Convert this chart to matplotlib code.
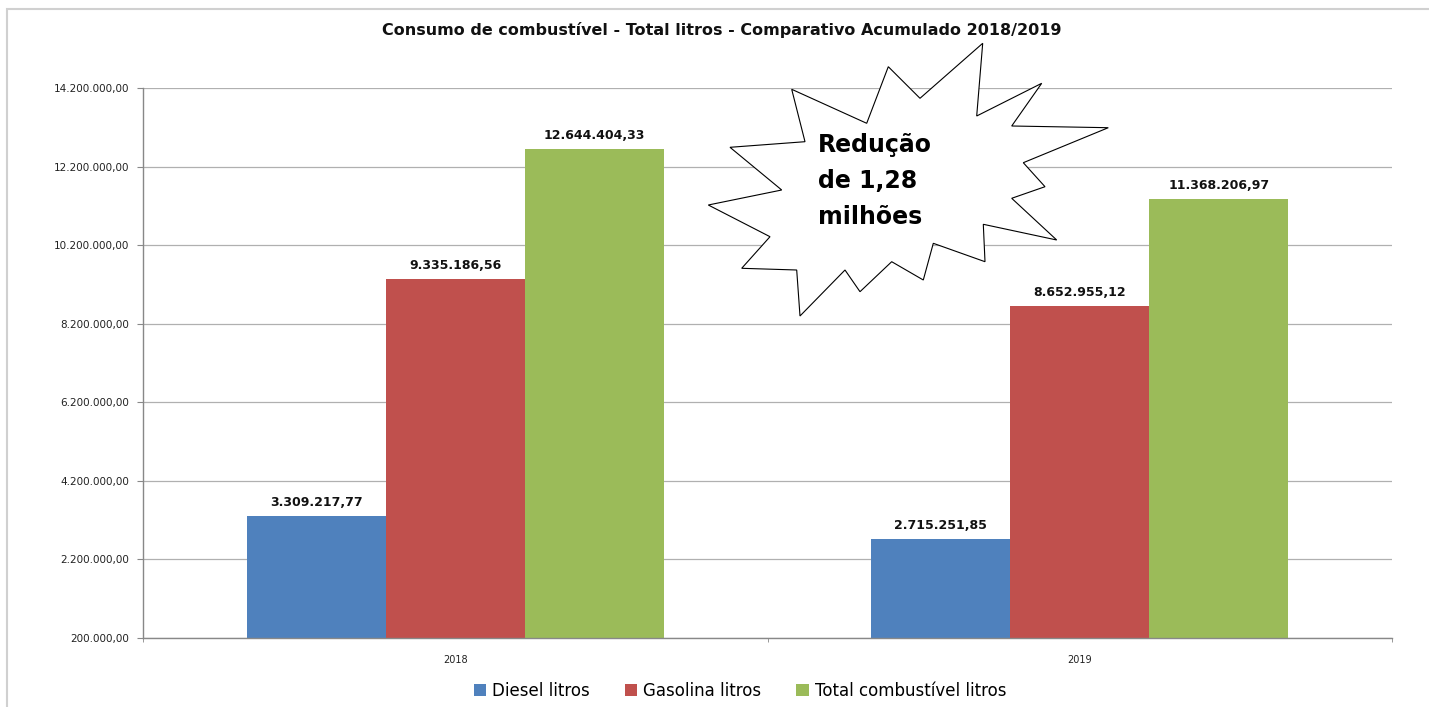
import numpy as np
import matplotlib
matplotlib.use("Agg")
from matplotlib import pyplot as plt
from matplotlib.patches import Polygon, Rectangle, Patch
from matplotlib.ticker import FixedLocator, FuncFormatter

# dados
anos = ["2018", "2019"]
diesel = [3309217.77, 2715251.85]
gasolina = [9335186.56, 8652955.12]
total = [12644404.33, 11368206.97]
series_nomes = ["Diesel litros", "Gasolina litros", "Total combustível litros"]
cores = ["#4F81BD", "#C0504D", "#9BBB59"]
y_ticks = [200000, 2200000, 4200000, 6200000, 8200000, 10200000, 12200000, 14200000]

titulo = "Consumo de combustível - Total litros - Comparativo Acumulado 2018/2019"
texto_estrela = "Redução\nde 1,28\nmilhões"

# contorno da "explosao" (pixels da figura, origem no canto superior esquerdo)
estrela_px = [(982.7, 43.3), (976.7, 116), (1041.7, 83.3), (1011.7, 126),
              (1108.3, 127.7), (1023.3, 162.7), (1045, 186.7), (1011.7, 198.3),
              (1056.7, 240), (983.3, 224.3), (985, 261.7), (933.3, 243.3),
              (923.3, 280), (891.7, 261.7), (860, 291.7), (845, 270),
              (800, 316), (796.7, 270), (741.7, 268.3), (770, 236.7),
              (708.3, 205), (781.7, 190), (730, 147.3), (805, 141.7),
              (791.7, 89.3), (866.7, 123.3), (888.3, 66.7), (920, 98.3)]


def fmt_br(v, pos=None):
    s = "{:,.2f}".format(v)
    return s.replace(",", "X").replace(".", ",").replace("X", ".")


W, H = 1429, 707
fig = plt.figure(figsize=(W / 100, H / 100), dpi=100)
ax = fig.add_axes([0.1001, 0.0976, 0.8740, 0.7779])

x = np.arange(len(anos))
w = 0.2225
for i, (vals, cor) in enumerate(zip([diesel, gasolina, total], cores)):
    pos = x + (i - 1) * w
    ax.bar(pos, vals, width=w, color=cor, zorder=2)
    for xp, v in zip(pos, vals):
        ax.annotate(fmt_br(v), (xp, v), xytext=(0, 5), textcoords="offset points",
                    ha="center", va="bottom", fontsize=9, fontweight="bold",
                    color="#111111")

ax.set_xlim(-0.5, 1.5)
ax.set_ylim(200000, 14200000)
ax.yaxis.set_major_locator(FixedLocator(y_ticks))
ax.yaxis.set_major_formatter(FuncFormatter(fmt_br))
ax.set_xticks(x)
ax.set_xticklabels(anos)
ax.set_xticks([-0.5, 0.5, 1.5], minor=True)
ax.tick_params(axis="x", which="major", length=0, labelsize=7, pad=12, colors="#222222")
ax.tick_params(axis="x", which="minor", length=3, color="#888888")
ax.tick_params(axis="y", length=4, color="#888888", labelsize=7.5, pad=6,
               labelcolor="#222222")
ax.grid(axis="y", color="#b0b0b0", linewidth=0.9, zorder=0)
ax.set_axisbelow(True)
for s in ["top", "right"]:
    ax.spines[s].set_visible(False)
for s in ["left", "bottom"]:
    ax.spines[s].set_color("#888888")
    ax.spines[s].set_linewidth(1.0)

fig.text(722 / W, 0.9576, titulo, ha="center", va="center", fontsize=11.5,
         fontweight="bold", color="#111111")

handles = [Patch(facecolor=c, edgecolor="none") for c in cores]
fig.legend(handles, series_nomes, loc="center", bbox_to_anchor=(740 / W, 0.023),
           ncol=3, frameon=False, fontsize=12, handlelength=0.75,
           handleheight=0.75, handletextpad=0.35, columnspacing=2.1)

# moldura do grafico
fig.add_artist(Rectangle((7 / W, -0.1), 1.2, 1 - 9 / H + 0.1,
                         transform=fig.transFigure, fill=False,
                         edgecolor="#d0d0d0", linewidth=1.5))

# estrela
pts = [(px / W, 1 - py / H) for px, py in estrela_px]
fig.add_artist(Polygon(pts, closed=True, transform=fig.transFigure,
                       facecolor="white", edgecolor="black", linewidth=0.8,
                       zorder=5))
fig.text(818 / W, 1 - 181 / H, texto_estrela, ha="left", va="center",
         fontsize=17, fontweight="bold", linespacing=1.65, zorder=6)

fig.savefig("out.png", dpi=100)
